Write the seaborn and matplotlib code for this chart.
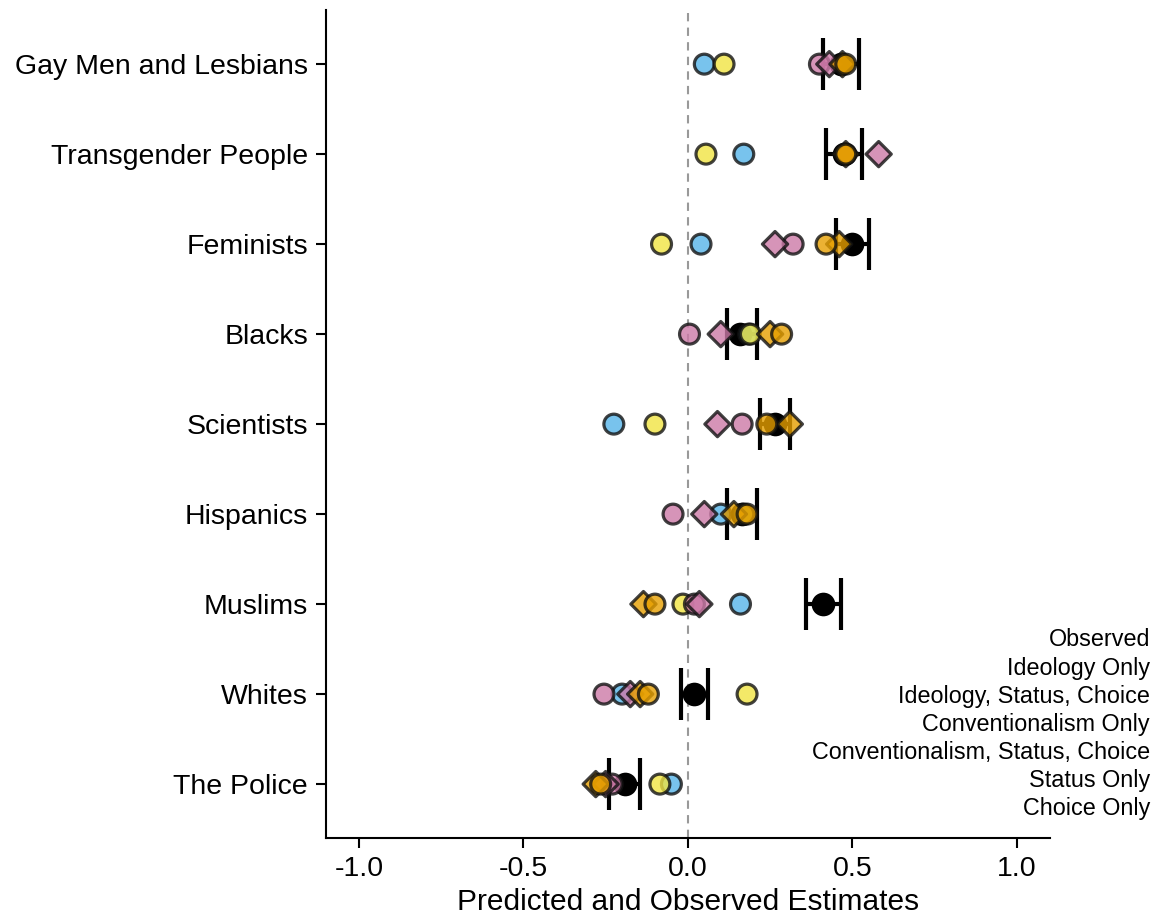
import matplotlib
matplotlib.use("Agg")
import matplotlib.pyplot as plt
import numpy as np
import pandas as pd
import seaborn as sns

#%% data

groups = ["Gay Men and Lesbians", "Transgender People", "Feminists", "Blacks",
          "Scientists", "Hispanics", "Muslims", "Whites", "The Police"]

observed = [0.465, 0.475, 0.50, 0.16, 0.265, 0.165, 0.41, 0.02, -0.19]
obs_low = [0.41, 0.42, 0.45, 0.12, 0.22, 0.12, 0.36, -0.02, -0.24]
obs_high = [0.52, 0.53, 0.55, 0.21, 0.31, 0.21, 0.465, 0.06, -0.145]

status_only = [0.05, 0.17, 0.04, 0.185, -0.225, 0.10, 0.16, -0.20, -0.05]
choice_only = [0.11, 0.055, -0.08, 0.19, -0.10, 0.17, -0.015, 0.18, -0.085]
ideology_only = [0.40, 0.48, 0.32, 0.005, 0.165, -0.045, 0.02, -0.255, -0.23]
ideology_sc = [0.43, 0.58, 0.265, 0.10, 0.09, 0.05, 0.035, -0.175, -0.25]
conv_sc = [0.47, 0.48, 0.46, 0.25, 0.31, 0.14, -0.135, -0.145, -0.28]
conv_only = [0.48, 0.48, 0.42, 0.285, 0.24, 0.18, -0.10, -0.12, -0.265]

legend_labels = ["Observed", "Ideology Only", "Ideology, Status, Choice",
                 "Conventionalism Only", "Conventionalism, Status, Choice",
                 "Status Only", "Choice Only"]

# draw order of the predicted models
models = {"Status Only": status_only,
          "Choice Only": choice_only,
          "Ideology Only": ideology_only,
          "Ideology, Status, Choice": ideology_sc,
          "Conventionalism, Status, Choice": conv_sc,
          "Conventionalism Only": conv_only}

palette = {"Status Only": "#56B4E9", "Choice Only": "#F0E442",
           "Ideology Only": "#CC79A7", "Ideology, Status, Choice": "#CC79A7",
           "Conventionalism, Status, Choice": "#E69F00",
           "Conventionalism Only": "#E69F00"}
markers = {m: ("D" if "Status, Choice" in m else "o") for m in models}
sizes = {m: (165 if "Status, Choice" in m else 205) for m in models}

pred = pd.concat([pd.DataFrame({"group": groups, "model": m, "estimate": v})
                  for m, v in models.items()], ignore_index=True)
obs = pd.DataFrame({"group": groups, "estimate": observed,
                    "low": obs_low, "high": obs_high})

#%% plot

sns.set_style("ticks")
plt.rcParams["font.family"] = ["Liberation Sans", "DejaVu Sans"]
plt.rcParams["text.color"] = "black"
plt.rcParams["axes.labelcolor"] = "black"

fig = plt.figure(figsize=(11.58, 9.22), dpi=100)
ax = fig.add_axes([0.2815, 0.091, 0.625, 0.898])

ax.axvline(0, color="#999999", ls=(0, (4, 3)), lw=1.5, zorder=0)

sns.scatterplot(data=obs, x="estimate", y="group", color="black", s=290,
                edgecolor="black", linewidth=0, legend=False, ax=ax, zorder=2)

xerr = [np.array(observed) - np.array(obs_low), np.array(obs_high) - np.array(observed)]
ax.errorbar(observed, groups, xerr=xerr, fmt="none", ecolor="black",
            elinewidth=3, capsize=19, capthick=3, zorder=2.5)

sns.scatterplot(data=pred, x="estimate", y="group", hue="model", style="model",
                size="model", palette=palette, markers=markers, sizes=sizes,
                alpha=0.8, edgecolor="#111111", linewidth=2.3, legend=False,
                ax=ax, zorder=3)

ax.set_xlim(-1.1, 1.1)
ax.set_ylim(len(groups) - 0.4, -0.6)
ax.set_xticks([-1.0, -0.5, 0.0, 0.5, 1.0])
ax.set_xticklabels(["-1.0", "-0.5", "0.0", "0.5", "1.0"])
ax.set_xlabel("Predicted and Observed Estimates", fontsize=21.5, labelpad=4)
ax.set_ylabel("")
ax.tick_params(axis="both", labelsize=20.5, colors="black", length=7, width=1.5, pad=6)
for side in ["left", "bottom"]:
    ax.spines[side].set_linewidth(1.5)
    ax.spines[side].set_color("black")
sns.despine(ax=ax)

for i, lab in enumerate(legend_labels):
    fig.text(0.993, 1 - (640 + 28 * i) / 922, lab, ha="right", va="center",
             fontsize=16.8, color="black")

fig.savefig("out.png", dpi=100)
